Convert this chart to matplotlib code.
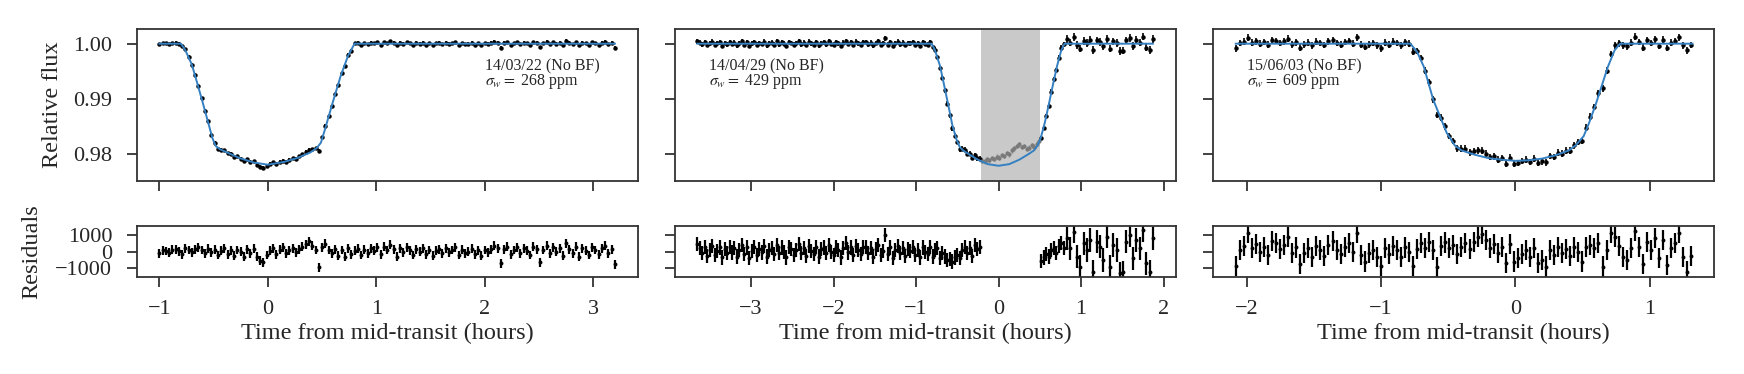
import numpy as np
import matplotlib
matplotlib.use("Agg")
import matplotlib.pyplot as plt

# ---------------- data ----------------
# Panel 1 : 14/03/22
p1_label, p1_sigma = "14/03/22 (No BF)", 268
t1_start, t1_step = -1.0, 0.03
flux1 = [0.99990, 1.00008, 1.00004, 0.99994, 1.00012, 1.00015, 1.00003, 0.99955, 0.99900, 0.99760,
         0.99615, 0.99435, 0.99235, 0.99010, 0.98780, 0.98588, 0.98345, 0.98202, 0.98090, 0.98075,
         0.98060, 0.98005, 0.97998, 0.97935, 0.97950, 0.97910, 0.97870, 0.97895, 0.97850, 0.97858,
         0.97800, 0.97765, 0.97745, 0.97780, 0.97815, 0.97840, 0.97815, 0.97852, 0.97875, 0.97850,
         0.97888, 0.97920, 0.97905, 0.97955, 0.97990, 0.98035, 0.98072, 0.98085, 0.98100, 0.98055,
         0.98295, 0.98508, 0.98680, 0.98860, 0.99085, 0.99245, 0.99460, 0.99590, 0.99800, 0.99875,
         1.00005, 1.00018, 0.99980, 1.00012, 0.99990, 1.00020, 1.00005, 1.00025, 0.99985, 1.00030,
         1.00010, 1.00042, 1.00015, 0.99970, 1.00020, 0.99995, 1.00025, 1.00008, 0.99980, 1.00015,
         1.00000, 1.00020, 0.99985, 1.00010, 0.99975, 1.00005, 1.00015, 0.99990, 1.00020, 0.99995,
         1.00010, 1.00025, 0.99980, 1.00012, 0.99990, 1.00000, 1.00018, 0.99985, 1.00008, 0.99975,
         1.00010, 0.99995, 1.00015, 1.00035, 1.00020, 0.99930, 1.00015, 1.00030, 0.99985, 1.00010,
         1.00025, 0.99990, 1.00020, 1.00005, 0.99980, 1.00030, 1.00015, 0.99935, 1.00010, 1.00035,
         0.99990, 1.00025, 1.00000, 1.00020, 0.99975, 1.00050, 1.00015, 0.99990, 1.00030, 0.99970,
         1.00020, 1.00005, 0.99980, 1.00025, 1.00010, 0.99985, 1.00020, 1.00035, 0.99990, 1.00015,
         0.99925]
resid1 = [-100, 80, 40, -60, 120, 150, 30, -150, 200, 100,
          -50, 150, 250, 100, -100, 180, -50, 120, -200, 50,
          200, -150, 80, -250, 100, 0, -300, 150, -100, 180,
          -300, -550, -650, -200, 50, 200, -150, 120, 250, -100,
          80, 200, -50, 150, 300, 450, 620, 350, 100, -950,
          250, 480, 100, -100, 150, -250, 100, -300, 200, -150,
          50, 180, -200, 120, -100, 200, 50, 250, -150, 300,
          100, 420, 150, -300, 200, -50, 250, 80, -200, 150,
          0, 200, -150, 100, -250, 50, 150, -100, 200, -50,
          100, 250, -200, 120, -100, 0, 180, -150, 80, -250,
          100, -50, 150, 350, 200, -700, 150, 300, -150, 100,
          250, -100, 200, 50, -200, 300, 150, -650, 100, 350,
          -100, 250, 0, 200, -250, 500, 150, -100, 300, -300,
          200, 50, -200, 250, 100, -150, 200, 350, -100, 150,
          -750]
model1_t = [-1.0, -0.80, -0.76, -0.70, -0.65, -0.60, -0.55, -0.51, -0.48, -0.44, -0.35, -0.26, -0.13,
            0.0, 0.15, 0.27, 0.39, 0.45, 0.49, 0.53, 0.60, 0.67, 0.74, 0.80, 3.2]
model1_f = [1.0, 1.0, 0.9988, 0.9962, 0.9928, 0.9893, 0.9857, 0.9828, 0.9814, 0.9808, 0.9800, 0.9792, 0.9784,
            0.9780, 0.9785, 0.9792, 0.9802, 0.9810, 0.9820, 0.9846, 0.9894, 0.9940, 0.9978, 1.0, 1.0]

# Panel 2 : 14/04/29
p2_label, p2_sigma = "14/04/29 (No BF)", 429
t2a_start, t2a_step = -3.65, 0.03
flux2a = [1.00045, 1.00020, 0.99990, 1.00030, 0.99975, 1.00010, 1.00035, 0.99980, 1.00005, 1.00025,
          0.99965, 1.00015, 0.99990, 1.00030, 0.99995, 1.00020, 0.99970, 1.00010, 1.00040, 0.99985,
          1.00025, 0.99960, 1.00005, 1.00030, 0.99980, 1.00015, 0.99995, 1.00035, 0.99970, 1.00010,
          1.00020, 0.99985, 1.00040, 0.99990, 1.00025, 1.00000, 0.99965, 1.00030, 1.00015, 0.99980,
          1.00010, 1.00045, 0.99990, 1.00020, 0.99975, 1.00035, 1.00005, 0.99985, 1.00030, 0.99970,
          1.00015, 1.00025, 0.99990, 1.00040, 1.00000, 0.99980, 1.00030, 1.00010, 0.99965, 1.00020,
          1.00050, 0.99995, 1.00025, 0.99980, 1.00035, 1.00010, 0.99985, 1.00030, 1.00030, 0.99990,
          1.00020, 0.99970, 1.00015, 1.00040, 0.99980, 1.00005, 1.00100, 0.99985, 1.00025, 0.99960,
          1.00010, 1.00035, 0.99990, 1.00020, 0.99975, 1.00015, 1.00005, 1.00030, 0.99980, 1.00010,
          0.99965, 1.00025, 1.00000, 0.99985, 1.00030, 0.99940, 0.99890, 0.99760, 0.99560, 0.99380,
          0.99150, 0.98910, 0.98695, 0.98460, 0.98325, 0.98210, 0.98080, 0.98090, 0.98070, 0.98000,
          0.98000, 0.97925, 0.97970, 0.97915, 0.97910]
resid2a = [450, 200, -100, 300, -250, 100, 350, -200, 50, 250,
           -350, 150, -100, 300, -50, 200, -300, 100, 400, -150,
           250, -400, 50, 300, -200, 150, -50, 350, -300, 100,
           200, -150, 400, -100, 250, 0, -350, 300, 150, -200,
           100, 450, -100, 200, -250, 350, 50, -150, 300, -300,
           150, 250, -100, 400, 0, -200, 300, 100, -350, 200,
           500, -50, 250, -200, 350, 100, -150, 300, 300, -100,
           200, -300, 150, 400, -200, 50, 1000, -150, 250, -400,
           100, 350, -100, 200, -250, 150, 50, 300, -200, 100,
           -350, 250, 0, -150, 300, -300, 100, 200, -400, -100,
           -300, -500, -450, -600, -350, -200, -400, 100, 300, -100,
           200, -250, 400, 150, 300]
# masked points inside the shaded interval (no residuals)
t2m_start, t2m_step = -0.20, 0.03
flux2m = [0.97875, 0.97860, 0.97895, 0.97880, 0.97920, 0.97905, 0.97945, 0.97930, 0.97975, 0.97960,
          0.98010, 0.97990, 0.98060, 0.98100, 0.98140, 0.98170, 0.98120, 0.98140, 0.98090, 0.98110,
          0.98150, 0.98130, 0.98180, 0.98230]
t2c_start, t2c_step = 0.52, 0.03
flux2c = [0.98285, 0.98465, 0.98685, 0.98870, 0.99130, 0.99350, 0.99520, 0.99745, 0.99930, 0.99990]
resid2c = [-550, -350, -150, -300, 100, 200, -100, 350, 500, 200]
t2d_start, t2d_step = 0.83, 0.04
flux2d = [1.00080, 1.00020, 1.00120, 0.99970, 0.99910, 1.00050, 1.00010, 1.00070, 0.99880, 1.00060,
          1.00030, 0.99950, 1.00090, 0.99910, 1.00040, 1.00010, 0.99870, 0.99875, 1.00060, 1.00100,
          0.99960, 1.00070, 1.00020, 1.00130, 0.99930, 0.99880, 1.00080]
resid2d = [800, 200, 1200, -300, -900, 500, 100, 700, -1200, 600,
           300, -500, 900, -900, 400, 100, -1300, -1250, 600, 1000,
           -400, 700, 200, 1300, -700, -1200, 800]
err2d = 700
mask2 = (-0.21, 0.50)
model2_t = [-3.65, -0.81, -0.77, -0.71, -0.66, -0.61, -0.56, -0.51, -0.47, -0.43, -0.35, -0.25, -0.13,
            0.0, 0.13, 0.25, 0.35, 0.43, 0.47, 0.51, 0.56, 0.61, 0.66, 0.71, 0.76, 0.80, 1.87]
model2_f = [1.0, 1.0, 0.9988, 0.9960, 0.9925, 0.9889, 0.9852, 0.9826, 0.9812, 0.9806, 0.9798, 0.9789, 0.9781,
            0.9778, 0.9781, 0.9789, 0.9798, 0.9806, 0.9814, 0.9828, 0.9856, 0.9890, 0.9926, 0.9960, 0.9988, 1.0, 1.0]

# Panel 3 : 15/06/03
p3_label, p3_sigma = "15/06/03 (No BF)", 609
t3_start, t3_step = -2.08, 0.03
flux3 = [0.99915, 1.00010, 1.00035, 1.00110, 1.00020, 1.00045, 1.00000, 1.00030, 0.99980, 1.00065,
         1.00050, 1.00015, 1.00040, 1.00090, 0.99990, 1.00025, 0.99925, 0.99990, 1.00020, 0.99970,
         1.00035, 1.00010, 0.99975, 1.00040, 1.00065, 1.00010, 0.99985, 1.00030, 1.00050, 1.00000,
         1.00115, 0.99980, 0.99940, 0.99990, 1.00010, 0.99970, 0.99915, 1.00020, 0.99985, 1.00035,
         1.00010, 0.99970, 1.00025, 1.00000, 0.99855, 0.99865, 0.99740, 0.99510, 0.99300, 0.98990,
         0.98705, 0.98655, 0.98495, 0.98320, 0.98230, 0.98095, 0.98090, 0.98090, 0.98025, 0.98050,
         0.98060, 0.98055, 0.98000, 0.97940, 0.97955, 0.97890, 0.97920, 0.97810, 0.97925, 0.97810,
         0.97830, 0.97865, 0.97890, 0.97850, 0.97910, 0.97830, 0.97860, 0.97840, 0.97960, 0.97940,
         0.98020, 0.98000, 0.98055, 0.98055, 0.98155, 0.98210, 0.98230, 0.98470, 0.98670, 0.98850,
         0.99100, 0.99190, 0.99510, 0.99815, 0.99970, 1.00005, 0.99970, 0.99950, 1.00020, 1.00125,
         1.00030, 0.99925, 1.00060, 1.00010, 1.00080, 0.99960, 1.00070, 0.99920, 1.00020, 1.00050,
         1.00115, 0.99970, 0.99880, 0.99975]
resid3 = [-850, 100, 350, 1100, 200, 450, 0, 300, -200, 650,
          500, 150, 400, 900, -100, 250, -750, -100, 200, -300,
          350, 100, -250, 400, 650, 100, -150, 300, 500, 0,
          1150, -200, -600, -100, 100, -300, -850, 200, -150, 350,
          100, -300, 250, 0, -850, 150, 500, 200, 600, 100,
          -950, 350, 550, 200, 400, -150, 300, 500, 150, 600,
          900, 1050, 700, 200, 450, -100, 300, -700, 450, -600,
          -400, -150, 100, -300, 200, -700, -500, -900, 100, -200,
          300, -100, 150, -250, 250, 0, -600, 300, 400, 200,
          500, -900, 100, 1150, 900, 350, -300, -500, 200, 1250,
          300, -750, 600, 100, 800, -400, 700, -800, 200, 500,
          1150, -300, -1200, -250]
model3_t = [-2.08, -0.78, -0.73, -0.68, -0.61, -0.55, -0.51, -0.45, -0.40, -0.30, -0.20, -0.10, 0.0,
            0.10, 0.20, 0.30, 0.40, 0.45, 0.51, 0.55, 0.60, 0.69, 0.74, 0.78, 1.32]
model3_f = [1.0, 1.0, 0.9985, 0.9958, 0.9898, 0.9862, 0.9838, 0.9815, 0.9806, 0.9798, 0.9792, 0.9789, 0.9787,
            0.9788, 0.9791, 0.9797, 0.9806, 0.9815, 0.9832, 0.9856, 0.9890, 0.9958, 0.9988, 1.0, 1.0]

flux_ticks = [0.98, 0.99, 1.00]
flux_ticklabels = ["0.98", "0.99", "1.00"]
resid_ticks = [-1000, 0, 1000]
xticks = [[-1, 0, 1, 2, 3], [-3, -2, -1, 0, 1, 2], [-2, -1, 0, 1]]

# ---------------- style ----------------
plt.rcParams["font.family"] = ["Liberation Serif", "DejaVu Serif"]
plt.rcParams["mathtext.fontset"] = "stix"
DARK = "#262626"
plt.rcParams.update({
    "axes.edgecolor": "#333333", "axes.linewidth": 1.3,
    "xtick.color": "#333333", "ytick.color": "#333333",
    "xtick.labelcolor": DARK, "ytick.labelcolor": DARK,
    "text.color": DARK, "axes.labelcolor": DARK,
    "xtick.major.size": 7, "ytick.major.size": 7,
    "xtick.major.width": 1.3, "ytick.major.width": 1.3,
    "xtick.major.pad": 9.5, "ytick.major.pad": 10.5,
    "xtick.labelsize": 16, "ytick.labelsize": 16,
    "axes.labelsize": 17.5,
})
BLUE = "#3480c2"


def seg(start, step, vals):
    return start + step * np.arange(len(vals))


def pair(t, a, b):
    n = min(len(t), len(a), len(b))
    return np.asarray(t[:n]), np.asarray(a[:n], float), np.asarray(b[:n], float)


fig = plt.figure(figsize=(17.44, 3.74), dpi=100)
lefts = [0.0783, 0.3868, 0.6955]
width = 0.2873
axF = [fig.add_axes([l, 0.516, width, 0.4057]) for l in lefts]
axR = [fig.add_axes([l, 0.2602, width, 0.1355]) for l in lefts]

eb_f = dict(fmt="o", ms=2.2, color="k", ecolor="k", elinewidth=1.2, capsize=0, zorder=2)
eb_r = dict(fmt="o", ms=1.8, color="k", ecolor="k", elinewidth=1.6, capsize=0, zorder=2)

# panel 1
t1 = seg(t1_start, t1_step, flux1)
t, f, r = pair(t1, flux1, resid1)
axF[0].errorbar(t, f, yerr=p1_sigma * 1e-6, **eb_f)
axF[0].plot(model1_t, model1_f, color=BLUE, lw=1.4, zorder=3)
axR[0].errorbar(t, r, yerr=p1_sigma, **eb_r)

# panel 2
axF[1].axvspan(mask2[0], mask2[1], color="#c9c9c9", zorder=0, lw=0)
for (st, sp, fl, rs, er) in [(t2a_start, t2a_step, flux2a, resid2a, p2_sigma),
                             (t2c_start, t2c_step, flux2c, resid2c, p2_sigma),
                             (t2d_start, t2d_step, flux2d, resid2d, err2d)]:
    t, f, r = pair(seg(st, sp, fl), fl, rs)
    axF[1].errorbar(t, f, yerr=er * 1e-6, **eb_f)
    axR[1].errorbar(t, r, yerr=er, **eb_r)
tm = seg(t2m_start, t2m_step, flux2m)
axF[1].errorbar(tm, flux2m, yerr=p2_sigma * 1e-6, fmt="o", ms=2.0, color="#7a7a7a",
                ecolor="#8a8a8a", elinewidth=1.0, capsize=0, zorder=2)
axF[1].plot(model2_t, model2_f, color=BLUE, lw=1.4, zorder=3)

# panel 3
t3 = seg(t3_start, t3_step, flux3)
t, f, r = pair(t3, flux3, resid3)
axF[2].errorbar(t, f, yerr=p3_sigma * 1e-6, **eb_f)
axF[2].plot(model3_t, model3_f, color=BLUE, lw=1.4, zorder=3)
axR[2].errorbar(t, r, yerr=p3_sigma, **eb_r)

xlims = [(-1.21, 3.41), (-3.926, 2.146), (-2.25, 1.48)]
labels = [p1_label, p2_label, p3_label]
sigmas = [p1_sigma, p2_sigma, p3_sigma]
txt_x = [0.696, 0.069, 0.067]
for i in range(3):
    for ax in (axF[i], axR[i]):
        ax.set_xlim(*xlims[i])
        ax.set_xticks(xticks[i])
        ax.tick_params(direction="out", top=False, right=False)
    axF[i].set_ylim(0.97503, 1.00262)
    axF[i].set_yticks(flux_ticks)
    axR[i].set_ylim(-1504, 1540)
    axR[i].set_yticks(resid_ticks)
    axF[i].tick_params(labelbottom=False)
    axR[i].set_xlabel("Time from mid-transit (hours)", labelpad=3)
    if i == 0:
        axF[i].set_yticklabels(flux_ticklabels)
        axF[i].set_ylabel("Relative flux")
        axF[i].yaxis.set_label_coords(-0.146, 0.5)
        axR[i].set_ylabel("Residuals")
        axR[i].yaxis.set_label_coords(-0.189, 0.5)
    else:
        axF[i].tick_params(labelleft=False)
        axR[i].tick_params(labelleft=False)
    axF[i].text(txt_x[i], 0.753, labels[i], transform=axF[i].transAxes,
                fontsize=11.5, va="center", ha="left", color=DARK)
    axF[i].text(txt_x[i], 0.655, r"$\sigma_w =$ %d ppm" % sigmas[i], transform=axF[i].transAxes,
                fontsize=11.5, va="center", ha="left", color=DARK)

fig.savefig("out.png", dpi=100)
